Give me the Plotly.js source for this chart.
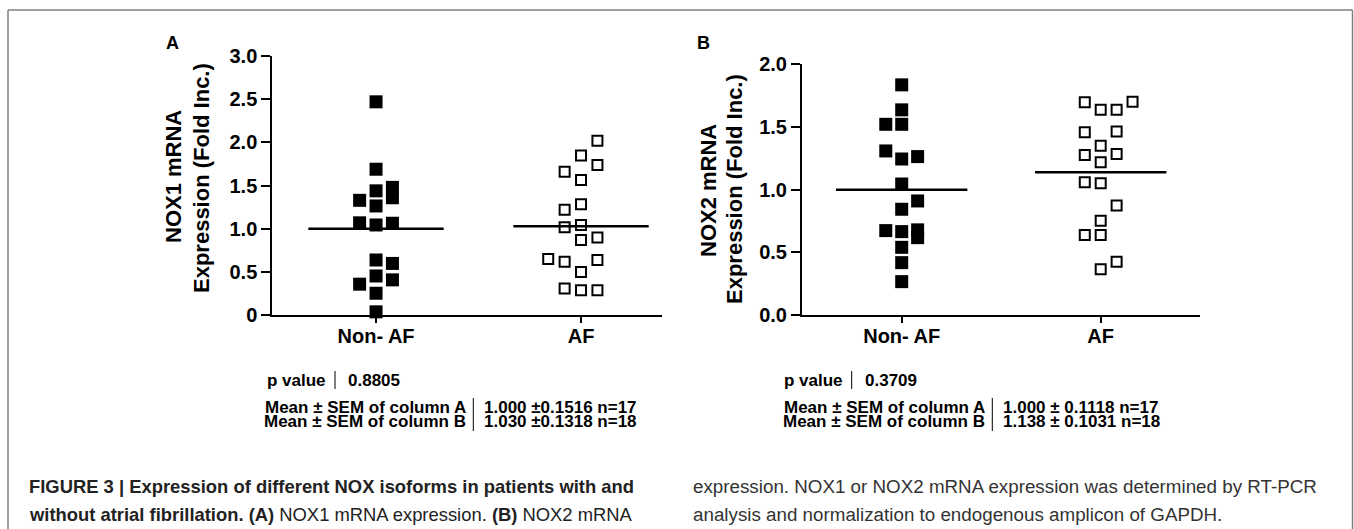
<!DOCTYPE html>
<html>
<head>
<meta charset="utf-8">
<script src="https://cdn.plot.ly/plotly-3.0.1.min.js"></script>
<style>
html,body{margin:0;padding:0;background:#fff;}
#chart{width:1354px;height:529px;}
</style>
</head>
<body>
<div id="chart"></div>
<script>
// ---------------- DATA ----------------
const categories = ['Non- AF', 'AF'];

// Panel A: NOX1 mRNA (fold increase)
const nonAfA = [2.47, 1.69, 1.44, 1.48, 1.36, 1.33, 1.265, 1.07, 1.045, 1.065, 0.64, 0.60, 0.455, 0.41, 0.36, 0.255, 0.04];
const nonAfASlot = [0, 0, 0, 1, 1, -1, 0, -1, 0, 1, 0, 1, 0, 1, -1, 0, 0];
const afA = [2.02, 1.85, 1.74, 1.66, 1.566, 1.285, 1.22, 1.02, 1.045, 0.87, 0.90, 0.65, 0.62, 0.64, 0.50, 0.31, 0.29, 0.29];
const afASlot = [1, 0, 1, -1, 0, 0, -1, -1, 0, 0, 1, -2, -1, 1, 0, -1, 0, 1];
const meanA = [1.000, 1.030];

// Panel B: NOX2 mRNA (fold increase)
const nonAfB = [1.834, 1.635, 1.52, 1.52, 1.308, 1.244, 1.263, 1.045, 0.91, 0.844, 0.674, 0.666, 0.68, 0.618, 0.541, 0.419, 0.268];
const nonAfBSlot = [0, 0, -1, 0, -1, 0, 1, 0, 1, 0, -1, 0, 1, 1, 0, 0, 0];
const afB = [1.696, 1.635, 1.635, 1.70, 1.457, 1.462, 1.35, 1.276, 1.284, 1.218, 1.059, 1.051, 0.873, 0.753, 0.639, 0.639, 0.366, 0.427];
const afBSlot = [-1, 0, 1, 2, -1, 1, 0, -1, 1, 0, -1, 0, 1, 0, -1, 0, 0, 1];
const meanB = [1.000, 1.138];

// Tick labels
const yTickValsA = [0, 0.5, 1.0, 1.5, 2.0, 2.5, 3.0];
const yTickTextA = ['0', '0.5', '1.0', '1.5', '2.0', '2.5', '3.0'];
const yTickValsB = [0, 0.5, 1.0, 1.5, 2.0];
const yTickTextB = ['0.0', '0.5', '1.0', '1.5', '2.0'];

// Statistics text
const pValues = ['0.8805', '0.3709'];
const meanLabels = ['Mean \u00B1 SEM of column A', 'Mean \u00B1 SEM of column B'];
const meanRowsA = ['1.000 \u00B10.1516 n=17', '1.030 \u00B10.1318 n=18'];
const meanRowsB = ['1.000 \u00B1 0.1118 n=17', '1.138 \u00B1 0.1031 n=18'];

const yTitlesA = ['NOX1 mRNA', 'Expression (Fold Inc.)'];
const yTitlesB = ['NOX2 mRNA', 'Expression (Fold Inc.)'];

const captionLeft = ['<b>FIGURE 3 | Expression of different NOX isoforms in patients with and</b>',
                     '<b>without atrial fibrillation. (A)</b> NOX1 mRNA expression. <b>(B)</b> NOX2 mRNA'];
const captionRight = ['expression. NOX1 or NOX2 mRNA expression was determined by RT-PCR',
                      'analysis and normalization to endogenous amplicon of GAPDH.'];

// ---------------- LAYOUT HELPERS ----------------
const W = 1354, H = 529;
const px = x => x / W;
const py = y => 1 - y / H;
const FONT = 'Liberation Sans, Arial, Helvetica, sans-serif';
const JIT = 0.08, HALF = 0.33;

function pts(vals, slots, cat, xa, ya, open) {
  return {
    type: 'scatter', mode: 'markers', xaxis: xa, yaxis: ya, cliponaxis: false,
    x: vals.map((v, i) => cat + slots[i] * JIT), y: vals,
    marker: open
      ? {symbol: 'square-open', size: 10, color: '#000', line: {width: 2, color: '#000'}}
      : {symbol: 'square', size: 13, color: '#000', line: {width: 0}},
    hoverinfo: 'skip', showlegend: false
  };
}
function meanLine(m, cat, xa, ya) {
  return {type: 'scatter', mode: 'lines', xaxis: xa, yaxis: ya, cliponaxis: false,
    x: [cat - HALF, cat + HALF], y: [m, m], line: {color: '#000', width: 2.5},
    hoverinfo: 'skip', showlegend: false};
}

const traces = [
  meanLine(meanA[0], 0, 'x', 'y'), meanLine(meanA[1], 1, 'x', 'y'),
  meanLine(meanB[0], 0, 'x2', 'y2'), meanLine(meanB[1], 1, 'x2', 'y2'),
  pts(nonAfA, nonAfASlot, 0, 'x', 'y', false),
  pts(afA, afASlot, 1, 'x', 'y', true),
  pts(nonAfB, nonAfBSlot, 0, 'x2', 'y2', false),
  pts(afB, afBSlot, 1, 'x2', 'y2', true)
];

const xCommon = {
  tickvals: [0, 1], ticktext: categories, showgrid: false, zeroline: false,
  showline: true, linecolor: '#000', linewidth: 2,
  ticks: 'outside', ticklen: 6, tickwidth: 2, tickcolor: '#000', ticklabelstandoff: -4,
  tickfont: {family: FONT, size: 20, color: '#000', weight: 'bold'}, fixedrange: true
};
const yCommon = {
  showgrid: false, zeroline: false, showline: true, linecolor: '#000', linewidth: 2,
  ticks: 'outside', ticklen: 9, tickwidth: 2, tickcolor: '#000',
  tickfont: {family: FONT, size: 20, color: '#000', weight: 'bold'}, fixedrange: true
};

const layout = {
  width: W, height: H, margin: {l: 0, r: 0, t: 0, b: 0},
  paper_bgcolor: '#fff', plot_bgcolor: 'rgba(0,0,0,0)', showlegend: false,
  font: {family: FONT, color: '#000'},
  xaxis: Object.assign({}, xCommon, {domain: [px(272.3), px(662)], range: [-0.506, 1.395], anchor: 'y'}),
  yaxis: Object.assign({}, yCommon, {domain: [py(315.3), py(56)], range: [0, 3], tickvals: yTickValsA, ticktext: yTickTextA, anchor: 'x'}),
  xaxis2: Object.assign({}, xCommon, {domain: [px(802), px(1200)], range: [-0.501, 1.499], anchor: 'y2'}),
  yaxis2: Object.assign({}, yCommon, {domain: [py(315.3), py(64)], range: [0, 2], tickvals: yTickValsB, ticktext: yTickTextB, anchor: 'x2'}),
  shapes: [],
  annotations: []
};

// Border frame
const frame = {type: 'line', xref: 'paper', yref: 'paper', line: {color: '#7f7f7f', width: 1.5}};
layout.shapes.push(Object.assign({}, frame, {x0: px(8), x1: px(1352.5), y0: py(10), y1: py(10)}));
layout.shapes.push(Object.assign({}, frame, {x0: px(8), x1: px(8), y0: py(10), y1: py(529)}));
layout.shapes.push(Object.assign({}, frame, {x0: px(1352.5), x1: px(1352.5), y0: py(10), y1: py(529)}));

function ann(text, x, y, opts) {
  layout.annotations.push(Object.assign({
    text: text, xref: 'paper', yref: 'paper', x: px(x), y: py(y),
    showarrow: false, xanchor: 'center', yanchor: 'middle',
    font: {family: FONT, size: 17, color: '#000', weight: 'bold'}
  }, opts || {}));
}
function vbar(x, y0, y1) {
  layout.shapes.push({type: 'line', xref: 'paper', yref: 'paper', x0: px(x), x1: px(x), y0: py(y0), y1: py(y1),
    line: {color: '#000', width: 1}});
}

// Panel letters
ann('A', 172, 43, {font: {family: FONT, size: 18, color: '#000', weight: 'bold'}});
ann('B', 703, 43, {font: {family: FONT, size: 18, color: '#000', weight: 'bold'}});

// Y-axis titles (two rotated lines each)
const tFont = {family: FONT, size: 22, color: '#000', weight: 'bold'};
ann(yTitlesA[0], 173, 177, {textangle: -90, font: tFont});
ann(yTitlesA[1], 201, 178, {textangle: -90, font: tFont});
ann(yTitlesB[0], 708, 191, {textangle: -90, font: tFont});
ann(yTitlesB[1], 734, 189, {textangle: -90, font: tFont});

// Stats blocks
const sFont = {family: FONT, size: 17, color: '#000', weight: 'bold'};
function stats(pBar, meanBar, pv, rows) {
  ann('p value', pBar - 7, 380, {xanchor: 'right', font: sFont});
  ann(pv, pBar + 11, 380, {xanchor: 'left', font: sFont});
  vbar(pBar, 371, 389);
  ann(meanLabels[0], meanBar - 6.5, 407, {xanchor: 'right', font: sFont, borderpad: 0});
  ann(meanLabels[1], meanBar - 6.5, 421, {xanchor: 'right', font: sFont, borderpad: 0});
  ann(rows[0], meanBar + 10, 407, {xanchor: 'left', font: sFont, borderpad: 0});
  ann(rows[1], meanBar + 10, 421, {xanchor: 'left', font: sFont, borderpad: 0});
  vbar(meanBar, 398, 431);
}
stats(335, 473.3, pValues[0], meanRowsA);
stats(851.7, 992.3, pValues[1], meanRowsB);

// Caption
const cFontL = {family: FONT, size: 18.4, color: '#222', weight: 'normal'};
const cFontR = {family: FONT, size: 18.8, color: '#333', weight: 'normal'};
ann(captionLeft[0], 27, 486, {xanchor: 'left', font: cFontL});
ann(captionLeft[1], 27, 514, {xanchor: 'left', font: cFontL});
ann(captionRight[0], 691, 486, {xanchor: 'left', font: cFontR});
ann(captionRight[1], 691, 514, {xanchor: 'left', font: cFontR});

Plotly.newPlot('chart', traces, layout, {displayModeBar: false, staticPlot: true});
</script>
</body>
</html>
